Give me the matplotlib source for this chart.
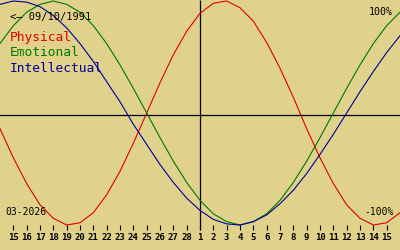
import matplotlib
matplotlib.use("Agg")
import matplotlib.pyplot as plt

# day offsets from the centre date (01 Mar 2026)
offsets = list(range(-15, 16))
physical = [-0.14, -0.40, -0.63, -0.82, -0.94, -1.00, -0.98, -0.89, -0.73, -0.52, -0.27,
            0.00, 0.27, 0.52, 0.73, 0.89, 0.98, 1.00, 0.94, 0.82, 0.63, 0.40, 0.14,
            -0.14, -0.40, -0.63, -0.82, -0.94, -1.00, -0.98, -0.89]
emotional = [0.62, 0.78, 0.90, 0.97, 1.00, 0.97, 0.90, 0.78, 0.62, 0.43, 0.22,
             0.00, -0.22, -0.43, -0.62, -0.78, -0.90, -0.97, -1.00, -0.97, -0.90, -0.78,
             -0.62, -0.43, -0.22, 0.00, 0.22, 0.43, 0.62, 0.78, 0.90]
intellectual = [0.97, 1.00, 0.99, 0.95, 0.87, 0.76, 0.62, 0.46, 0.28, 0.10, -0.10,
                -0.28, -0.46, -0.62, -0.76, -0.87, -0.95, -0.99, -1.00, -0.97, -0.91,
                -0.81, -0.69, -0.54, -0.37, -0.19, 0.00, 0.19, 0.37, 0.54, 0.69]
tick_offsets = list(range(-14, 15))
tick_labels = [str(d) for d in list(range(15, 29)) + list(range(1, 16))]
series_names = ["Physical", "Emotional", "Intellectual"]
birth_label = "<\u2014 09/10/1991"
month_label = "03-2026"

BG = "#E0D28A"
RED = "#E00000"
GREEN = "#007800"
BLUE = "#000098"
MONO = "DejaVu Sans Mono"

W, H = 400, 250
fig = plt.figure(figsize=(W / 100, H / 100), dpi=100, facecolor=BG)
ax = fig.add_axes([0, 0, 1, 1], facecolor=BG)

# pixel row y <-> value v : y = 113 - 112 v
def v_of(y):
    return (113 - y) / 112

ax.set_xlim(-15, 15)
ax.set_ylim(v_of(H), v_of(0))
ax.axis("off")

ax.axhline(v_of(115), color="black", lw=0.9)
ax.vlines(0, v_of(230), v_of(0), color="black", lw=0.9)

ax.plot(offsets, physical, color=RED, lw=0.8)
ax.plot(offsets, emotional, color=GREEN, lw=0.8)
ax.plot(offsets, intellectual, color=BLUE, lw=0.8)

ax.vlines(tick_offsets, v_of(230), v_of(225), color="black", lw=0.8)
for t, lab in zip(tick_offsets, tick_labels):
    ax.text(t, v_of(238), lab, ha="center", va="center", fontsize=6.5,
            family=MONO, fontweight="bold", color="black")

def ftext(x, y, s, **kw):
    fig.text(x / W, 1 - y / H, s, family=MONO, **kw)

ftext(10, 17, birth_label, fontsize=7.5, color="black", va="center", ha="left")
for name, col, y in zip(series_names, [RED, GREEN, BLUE], [38, 53, 68]):
    ftext(10, y, name, fontsize=9.3, color=col, va="center", ha="left")
ftext(393, 12, "100%", fontsize=7.2, color="black", va="center", ha="right")
ftext(394, 212, "-100%", fontsize=7, color="black", va="center", ha="right")
ftext(5, 212, month_label, fontsize=7, color="black", va="center", ha="left")

fig.savefig("out.png", dpi=100, facecolor=BG)
